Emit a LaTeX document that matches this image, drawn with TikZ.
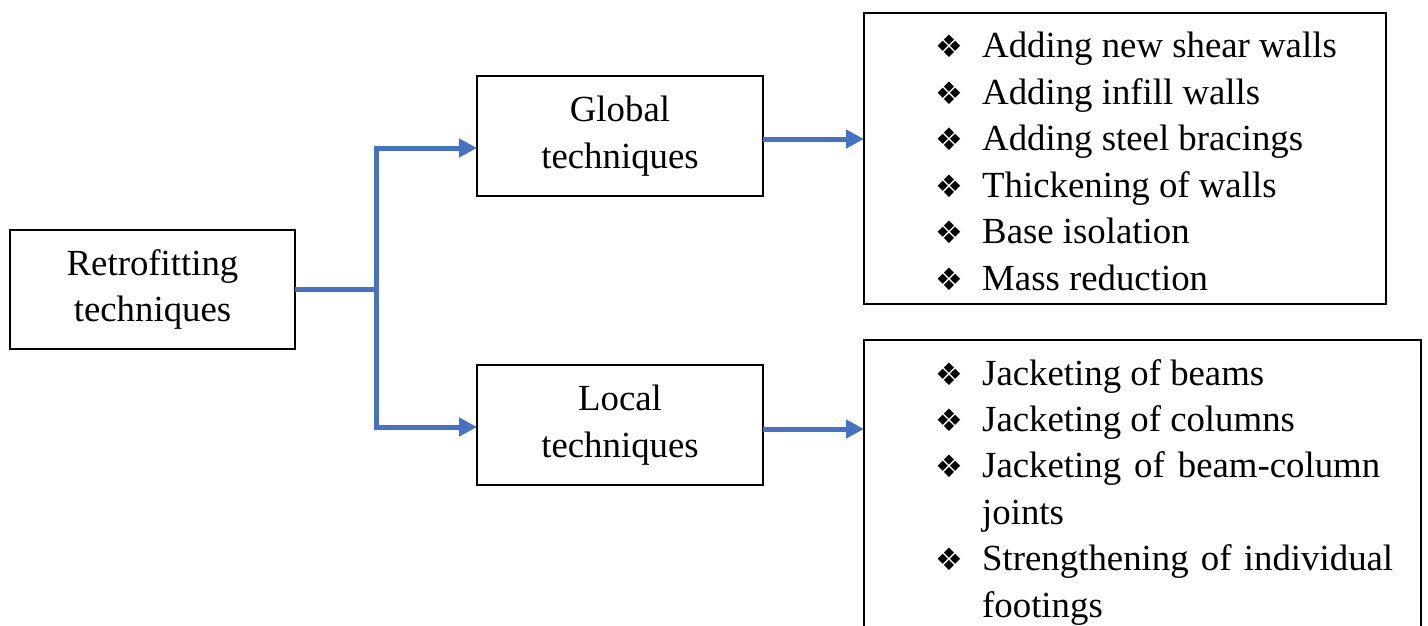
\documentclass[tikz,border=0pt]{standalone}
\usepackage{fontspec}
\setmainfont{Liberation Serif}
\newfontfamily\dejavu{DejaVu Sans}
\usetikzlibrary{arrows.meta}
\definecolor{arrowblue}{RGB}{68,114,196}
\newcommand{\bul}{{\dejavu\fontsize{31}{31}\selectfont ❖}}
\begin{document}
\begin{tikzpicture}[x=1pt,y=-1pt,
  box/.style={draw=black, line width=1.4pt, inner sep=0pt, outer sep=0pt, anchor=north west},
  lbl/.style={font=\fontsize{36.8}{46.4}\selectfont, align=center},
  itemtxt/.style={font=\fontsize{36.8}{46.4}\selectfont, inner sep=0pt, anchor=base west},
  bulnode/.style={inner sep=0pt, anchor=base west},
  conn/.style={draw=arrowblue, line width=5pt},
  arr/.style={conn, -{Triangle[length=18pt,width=18pt]}}]
\useasboundingbox (0,0) rectangle (1428,626);
\begin{scope}
\clip (0,0) rectangle (1428,626);
% boxes
\node[box, lbl, minimum width=285pt, minimum height=119pt] (retro) at (10,230) {Retrofitting\\techniques};
\node[box, lbl, minimum width=286pt, minimum height=120pt] (global) at (477,76) {Global\\techniques};
\node[box, lbl, minimum width=286pt, minimum height=120pt] (local) at (477,365) {Local\\techniques};
\node[box, minimum width=522pt, minimum height=291pt] (glist) at (864,13) {};
\node[box, minimum width=557pt, minimum height=320pt] (llist) at (864,340) {};
% global list
\foreach \t [count=\i from 0] in {Adding new shear walls, Adding infill walls, Adding steel bracings, Thickening of walls, Base isolation, Mass reduction}{
  \node[bulnode] (gb\i) at (935.5,58+\i*46.4) {\bul};
  \node[itemtxt] (gt\i) at (982,58+\i*46.4) {\t};
}
% local list
\node[bulnode] (lb0) at (935.5,385) {\bul};
\node[itemtxt] (lt0) at (982,385) {Jacketing of beams};
\node[bulnode] (lb1) at (935.5,431.4) {\bul};
\node[itemtxt] (lt1) at (982,431.4) {Jacketing of columns};
\node[bulnode] (lb2) at (935.5,477.8) {\bul};
\node[itemtxt] (lt2) at (982,477.8) {\makebox[398pt][s]{Jacketing of beam-column}};
\node[itemtxt] (lt3) at (982,524.2) {joints};
\node[bulnode] (lb4) at (935.5,570.6) {\bul};
\node[itemtxt] (lt4) at (982,570.6) {\makebox[411pt][s]{Strengthening of individual}};
\node[itemtxt] (lt5) at (982,617) {footings};
% connectors
\coordinate (vx) at (376,0);
\coordinate (split) at (retro.east -| vx);
\coordinate (gtop) at (376,148);
\coordinate (ltop) at (376,427);
\coordinate (ga) at (763,139);
\coordinate (la) at (763,429);
\draw[conn] (retro.east) -- (split);
\draw[arr] (split) -- (gtop) -- (gtop -| global.west);
\draw[arr] (split) -- (ltop) -- (ltop -| local.west);
\draw[arr] (ga) -- (ga -| glist.west);
\draw[arr] (la) -- (la -| llist.west);
\end{scope}
\end{tikzpicture}
\end{document}
